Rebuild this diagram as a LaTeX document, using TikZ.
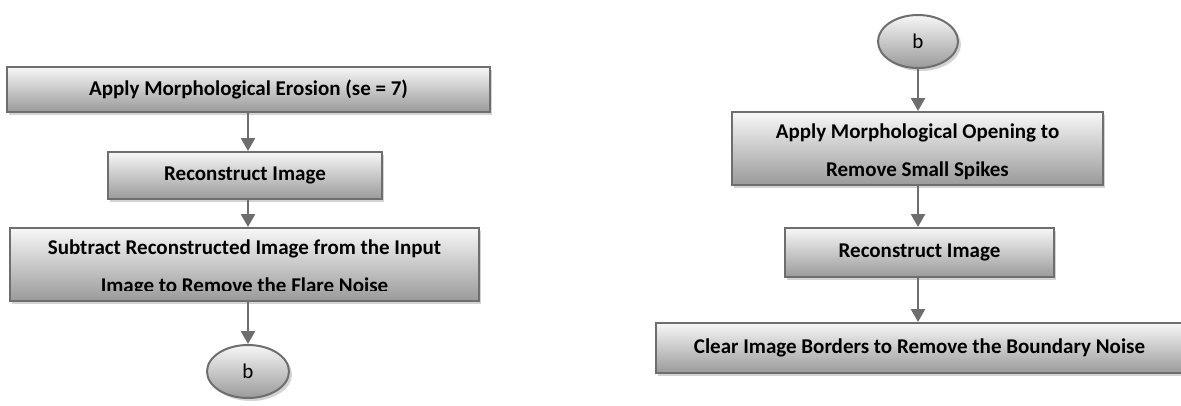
\documentclass[tikz,border=0pt]{standalone}
\usepackage{fontspec}
\setmainfont{Carlito}
\usetikzlibrary{arrows.meta,shadows,shapes.geometric}
\definecolor{edgegray}{HTML}{6E6E6E}
\definecolor{topgray}{HTML}{F7F7F7}
\definecolor{botgray}{HTML}{9A9A9A}
\tikzset{
  boxfont/.style={font=\fontsize{21}{38}\selectfont\bfseries},
  stepbox/.style={draw=edgegray, line width=2pt, rectangle, inner sep=0pt,
    top color=topgray, bottom color=botgray,
    drop shadow={shadow xshift=2pt, shadow yshift=-3pt, opacity=0.35, fill=gray},
    boxfont, align=center, text=black},
  conn/.style={draw=edgegray, ellipse, line width=2pt, inner sep=0pt,
    top color=topgray, bottom color=botgray,
    drop shadow={shadow xshift=3pt, shadow yshift=-3pt, opacity=0.35, fill=gray},
    font=\fontsize{21}{25}\selectfont},
  flow/.style={draw=edgegray, line width=2.5pt, -{Triangle[width=14pt,length=13pt]}}
}
\begin{document}
\begin{tikzpicture}[x=1pt,y=-1pt]
\useasboundingbox (0,0) rectangle (1181,405);
\clip (0,0) rectangle (1181,405);
% left column
\node[stepbox, minimum width=483pt, minimum height=45pt] (b1) at (248.5,89.5) {Apply Morphological Erosion (se = 7)};
\node[stepbox, minimum width=274pt, minimum height=47pt] (b2) at (245,175.5) {Reconstruct Image};
\node[stepbox, minimum width=469pt, minimum height=73pt] (b3) at (244.5,264.5) {};
\begin{scope}
  \clip ([yshift=-2pt]b3.north west) rectangle ([yshift=12pt]b3.south east);
  \node[boxfont, align=center, text=black] (t3) at ([yshift=-3pt]b3.center)
    {Subtract Reconstructed Image from the Input\\Image to Remove the Flare Noise};
\end{scope}
\node[conn, minimum width=82pt, minimum height=53pt] (c1) at (248,371.5) {b};
% right column
\node[conn, minimum width=80pt, minimum height=53pt] (c2) at (918,41.5) {b};
\node[stepbox, minimum width=371pt, minimum height=73pt,
  path picture={\node[boxfont, align=center, text=black]
    at ([yshift=-3pt]path picture bounding box.center)
    {Apply Morphological Opening to\\Remove Small Spikes};}] (b4) at (917.5,148.5) {};
\node[stepbox, minimum width=269pt, minimum height=49pt] (b5) at (919.5,252.5) {Reconstruct Image};
\node[stepbox, minimum width=527pt, minimum height=50pt] (b6) at (919.5,348) {Clear Image Borders to Remove the Boundary Noise};
% connectors
\draw[flow] ([xshift=-0.5pt]b1.south) -- ([xshift=-0.5pt]b1.south |- b2.north);
\draw[flow] ([xshift=3pt]b2.south) -- ([xshift=3pt]b2.south |- b3.north);
\draw[flow] ([xshift=3.5pt]b3.south) -- (c1.north);
\draw[flow] (c2.south) -- (c2.south |- b4.north);
\draw[flow] ([xshift=0.5pt]b4.south) -- ([xshift=0.5pt]b4.south |- b5.north);
\draw[flow] ([xshift=-1.5pt]b5.south) -- ([xshift=-1.5pt]b5.south |- b6.north);
\end{tikzpicture}
\end{document}
